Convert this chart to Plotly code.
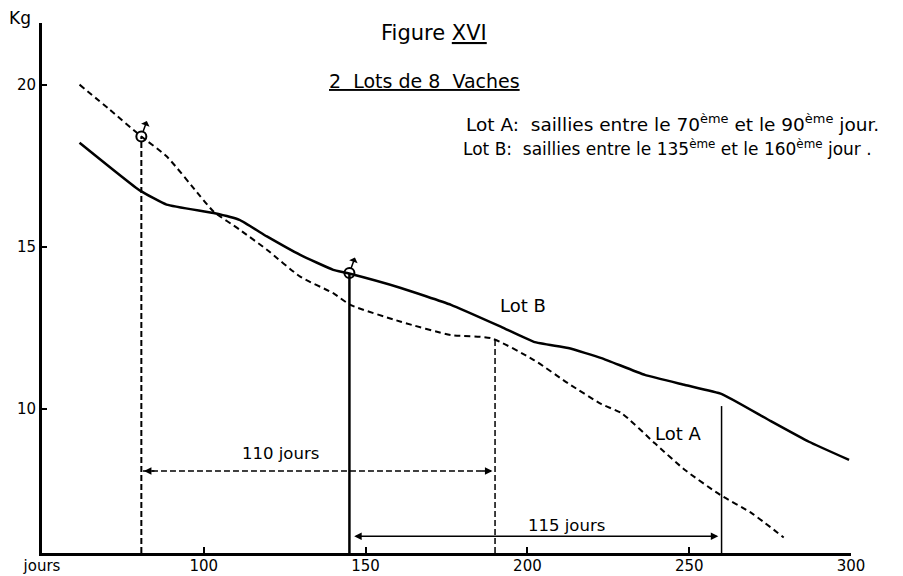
import plotly.graph_objects as go

# Lot A (dashed) - saillies entre le 70e et le 90e jour
days_a = [61.6, 70.9, 80.7, 88.5, 98.8, 103, 111.2, 119.5, 129.8, 140, 145.3, 160.9,
          176.4, 188.8, 202, 212.6, 222.9, 229.1, 239.4, 248.7, 259.6, 269.4, 279.2]
kg_a = [20.0, 19.23, 18.4, 17.79, 16.57, 16.09, 15.52, 14.91, 14.08, 13.57, 13.21, 12.69,
        12.28, 12.18, 11.51, 10.79, 10.15, 9.87, 8.94, 8.12, 7.35, 6.78, 6.04]

# Lot B (solid) - saillies entre le 135e et le 160e jour
days_b = [61.6, 80.2, 88.5, 103, 111, 119.5, 129.8, 140, 144.3, 160.9, 176.4, 191.9,
          202, 212.6, 222.9, 236.3, 248.7, 260.1, 274.6, 287, 299.4]
kg_b = [18.21, 16.74, 16.30, 16.04, 15.83, 15.32, 14.75, 14.29, 14.19, 13.73, 13.21, 12.53,
        12.07, 11.88, 11.57, 11.05, 10.74, 10.46, 9.66, 8.99, 8.43]

# saillies (male symbol) and durations
saillie_a = (80.7, 18.4)
saillie_b = (145, 14.19)
end_a = (190, 12.13)
end_b = (260, 10.09)
y_bottom = 5.56
arrow_110_y = 8.09
arrow_115_y = 6.08

FONT = "DejaVu Sans"

fig = go.Figure()

fig.add_trace(go.Scatter(x=days_a, y=kg_a, mode="lines",
                         line=dict(color="black", width=2, dash="6px,4px", shape="spline", smoothing=0.6)))
fig.add_trace(go.Scatter(x=days_b, y=kg_b, mode="lines",
                         line=dict(color="black", width=2.5, shape="spline", smoothing=0.4)))

# vertical markers
fig.add_trace(go.Scatter(x=[saillie_a[0], saillie_a[0]], y=[y_bottom, saillie_a[1]], mode="lines",
                         line=dict(color="black", width=2, dash="6px,3px")))
fig.add_trace(go.Scatter(x=[saillie_b[0], saillie_b[0]], y=[y_bottom, saillie_b[1]], mode="lines",
                         line=dict(color="black", width=2.5)))
fig.add_trace(go.Scatter(x=[end_a[0], end_a[0]], y=[y_bottom, end_a[1]], mode="lines",
                         line=dict(color="black", width=1.5, dash="6px,3px")))
fig.add_trace(go.Scatter(x=[end_b[0], end_b[0]], y=[y_bottom, end_b[1]], mode="lines",
                         line=dict(color="black", width=1.5)))

# dashed 110 jours span
fig.add_trace(go.Scatter(x=[saillie_a[0] + 0.5, end_a[0] - 0.5], y=[arrow_110_y, arrow_110_y], mode="lines",
                         line=dict(color="black", width=1.5, dash="6px,3px")))

# circles
fig.add_trace(go.Scatter(x=[saillie_a[0], saillie_b[0]], y=[saillie_a[1], saillie_b[1]], mode="markers",
                         marker=dict(symbol="circle-open", size=10, color="black", line=dict(width=2))))

annotations = [
    dict(x=-0.027, y=1.009, xref="paper", yref="paper", xanchor="center", yanchor="middle",
         text="Kg", showarrow=False, font=dict(size=17)),
    dict(x=171, y=21.6, text="Figure <u>XVI</u>", showarrow=False, font=dict(size=21)),
    dict(x=138, y=20.1, xanchor="left", text="<u>2  Lots de 8  Vaches</u>", showarrow=False,
         font=dict(size=19)),
    dict(x=180.4, y=18.83, xanchor="left",
         text="Lot A:  saillies entre le 70<sup>ème</sup> et le 90<sup>ème</sup> jour.",
         showarrow=False, font=dict(size=18.5)),
    dict(x=179.5, y=18.05, xanchor="left",
         text="Lot B:  saillies entre le 135<sup>ème</sup> et le 160<sup>ème</sup> jour .",
         showarrow=False, font=dict(size=17)),
    dict(x=198.6, y=13.2, text="Lot B", showarrow=False, font=dict(size=18)),
    dict(x=246.7, y=9.25, text="Lot A", showarrow=False, font=dict(size=18)),
    dict(x=123.7, y=8.64, text="110 jours", showarrow=False, font=dict(size=16.5)),
    dict(x=212, y=6.42, text="115 jours", showarrow=False, font=dict(size=16.5)),
    # 115 jours arrow
    dict(x=end_b[0] - 1, y=arrow_115_y, ax=saillie_b[0] + 1, ay=arrow_115_y, axref="x", ayref="y",
         text="", showarrow=True, arrowside="end+start", arrowhead=2, arrowsize=1, arrowwidth=1.5,
         arrowcolor="black"),
    # 110 jours arrowheads
    dict(x=saillie_a[0] + 0.8, y=arrow_110_y, ax=12, ay=0, text="", showarrow=True, arrowhead=2,
         arrowsize=1, arrowwidth=1.5, arrowcolor="black"),
    dict(x=end_a[0] - 0.8, y=arrow_110_y, ax=-12, ay=0, text="", showarrow=True, arrowhead=2,
         arrowsize=1, arrowwidth=1.5, arrowcolor="black"),
]

# male symbol arrows
for sx, sy in (saillie_a, saillie_b):
    annotations.append(dict(x=sx, y=sy, ax=6, ay=-17, text="", showarrow=True, arrowside="start",
                            arrowhead=2, arrowsize=1, arrowwidth=1.5, arrowcolor="black", standoff=5))

# page body has an 8px margin, so the figure is shrunk and shifted to compensate
fig.update_layout(
    width=895, height=568,
    margin=dict(l=34, r=52, t=15, b=23, autoexpand=False),
    paper_bgcolor="white", plot_bgcolor="white",
    showlegend=False,
    font=dict(family=FONT, color="black", size=15),
    annotations=annotations,
)
fig.update_xaxes(range=[50, 300], tickvals=[50, 100, 150, 200, 250, 300],
                 ticktext=["jours", "100", "150", "200", "250", "300"],
                 ticks="inside", ticklen=6, tickwidth=2, tickcolor="black",
                 showline=True, linewidth=3, linecolor="black", showgrid=False, zeroline=False,
                 tickfont=dict(size=15), ticklabelstandoff=-3, automargin=False)
fig.update_yaxes(range=[y_bottom, 21.9], tickvals=[10, 15, 20],
                 ticks="inside", ticklen=5, tickwidth=2, tickcolor="black",
                 showline=True, linewidth=3, linecolor="black", showgrid=False, zeroline=False,
                 tickfont=dict(size=15), automargin=False)

fig.write_html("out.html")
